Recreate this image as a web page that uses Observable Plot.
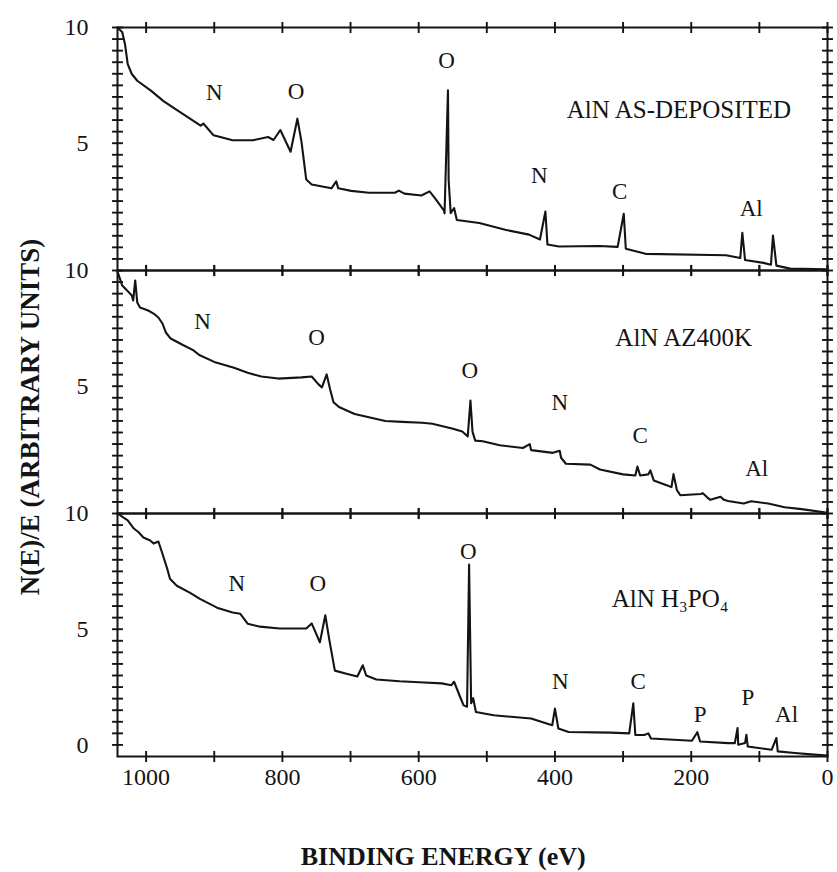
<!DOCTYPE html>
<html>
<head>
<meta charset="utf-8">
<script src="https://cdn.jsdelivr.net/npm/d3@7"></script>
<script src="https://cdn.jsdelivr.net/npm/@observablehq/plot@0.6"></script>
<style>
  html, body { margin: 0; padding: 0; background: #fff; }
  #chart { width: 837px; height: 872px; }
</style>
</head>
<body>
<div id="chart"></div>
<script>
// ---- panels ----
const panels = ["AlN AS-DEPOSITED", "AlN AZ400K", "AlN H\u2083PO\u2084"];

// ---- spectrum 1: AlN as-deposited ----
const energyAsDep = [1042,1035,1031,1027,1021,1013,993,974,944,920,916,901,873,843,821,813,803,788,778,772,765,757,728,721,718,699,673,635,629,621,596,584,577,563,562,557,556,553,548,544,511,473,438,422,414,411,394,335,308,299,296,267,149,128,125,121,94,83,80,75,55,0];
const intensityAsDep = [10,9.79,9.28,8.42,7.99,7.70,7.27,6.81,6.22,5.76,5.85,5.34,5.13,5.13,5.27,5.14,5.57,4.63,6.06,5.07,3.43,3.22,3.05,3.35,3.05,2.94,2.86,2.86,2.95,2.82,2.74,2.92,2.66,2.10,1.97,7.29,3.40,1.98,2.20,1.68,1.55,1.26,1.05,0.84,2.05,0.62,0.54,0.56,0.52,1.95,0.44,0.22,0.16,0.04,1.13,-0.05,-0.17,-0.25,1.01,-0.29,-0.42,-0.45];

// ---- spectrum 2: AlN AZ400K ----
const energyAZ = [1042,1035,1028,1021,1019,1016,1013,1009,997,989,982,976,971,964,946,931,922,900,871,851,831,806,772,757,747,742,735,730,725,717,694,649,624,595,580,551,536,528,524,521,517,506,481,447,437,435,403,393,391,384,348,334,300,282,279,275,263,260,255,236,229,226,221,216,186,183,177,172,157,152,146,123,112,87,63,38,0];
const intensityAZ = [9.95,9.35,9.14,8.92,8.70,9.57,8.62,8.40,8.27,8.14,7.97,7.71,7.32,7.06,6.78,6.56,6.35,6.05,5.80,5.58,5.42,5.33,5.38,5.42,5.08,4.95,5.51,4.87,4.31,4.10,3.80,3.50,3.46,3.42,3.38,3.17,3.04,2.83,4.38,3.04,2.65,2.62,2.45,2.33,2.50,2.24,2.12,2.21,1.91,1.65,1.61,1.40,1.19,1.14,1.53,1.14,1.19,1.36,0.93,0.72,0.64,1.20,0.51,0.29,0.34,0.38,0.21,0.09,0.22,0.09,0.04,-0.07,0.03,-0.07,-0.23,-0.31,-0.47];

// ---- spectrum 3: AlN H3PO4 ----
const energyH3PO4 = [1042,1027,1018,1011,1004,994,989,982,976,969,965,955,936,921,896,873,862,851,833,804,775,765,757,745,737,731,723,706,690,682,677,662,628,599,566,552,548,539,534,529,526,523,520,516,490,435,419,404,400,395,380,318,291,285,282,269,263,259,199,191,187,146,136,132,131,121,119,117,82,75,73,48,24,0];
const intensityH3PO4 = [10,9.70,9.35,9.19,8.96,8.83,8.70,8.79,8.26,7.61,7.18,6.88,6.58,6.31,5.93,5.72,5.67,5.24,5.11,5.03,5.03,5.03,5.25,4.43,5.60,4.52,3.21,3.08,2.96,3.44,3.00,2.83,2.75,2.71,2.66,2.58,2.73,2.06,1.71,1.65,7.79,1.80,2.02,1.42,1.28,1.14,0.99,0.85,1.57,0.71,0.56,0.53,0.50,1.80,0.43,0.43,0.50,0.28,0.18,0.55,0.15,0.08,0.08,0.73,0.01,0.08,0.44,-0.07,-0.21,0.30,-0.28,-0.35,-0.41,-0.46];

// ---- peak annotations (panel index, text, energy, intensity) ----
const peakPanel = [0,0,0,0,0,0, 1,1,1,1,1,1, 2,2,2,2,2,2,2,2];
const peakText  = ["N","O","O","N","C","Al", "N","O","O","N","C","Al", "N","O","O","N","C","P","P","Al"];
const peakE     = [900,780,559,423,305,112, 917,750,525,393,275,104, 867,748,527,392,278,187,117,60];
const peakI     = [7.17,7.22,8.58,3.61,2.91,2.17, 7.78,7.11,5.68,4.28,2.88,1.44, 6.98,6.99,8.35,2.72,2.73,1.30,2.05,1.31];

// ---- panel titles ----
const titleE = [218, 211, 231];
const titleI = [6.45, 7.08, 6.29];

// ---- axes ----
const xTickLabels = [1000, 800, 600, 400, 200, 0];
const xMinorTicks = [1000, 900, 800, 700, 600, 500, 400, 300, 200, 100, 0];
const yTickPanel = [0, 0, 1, 1, 2, 2, 2];
const yTickValue = [10, 5, 10, 5, 10, 5, 0];
const yMinorTicks = [0,0.5,1,1.5,2,2.5,3,3.5,4,4.5,5,5.5,6,6.5,7,7.5,8,8.5,9,9.5,10];
const xTitle = "BINDING ENERGY (eV)";
const yTitle = "N(E)/E (ARBITRARY UNITS)";
const eMax = 1042;
const yMin = -0.5, yMax = 10;

// ---- build tables ----
const rows = [
  ...energyAsDep.map((e, i) => ({panel: panels[0], E: e, I: intensityAsDep[i]})),
  ...energyAZ.map((e, i) => ({panel: panels[1], E: e, I: intensityAZ[i]})),
  ...energyH3PO4.map((e, i) => ({panel: panels[2], E: e, I: intensityH3PO4[i]}))
];
const yTickRows = panels.flatMap(p => yMinorTicks.flatMap(v => [{panel: p, v, side: eMax}, {panel: p, v, side: 0}]));
const xTickRows = panels.flatMap(p => xMinorTicks.flatMap(e => [{panel: p, e, edge: yMin}, {panel: p, e, edge: yMax}]));

const ink = "#141414";
const tickHalfE = 8;     // eV  (~5.5 px)
const tickHalfY = 0.24;  // units (~5.5 px)

const chart = Plot.plot({
  width: 837,
  height: 872,
  marginTop: 26,
  marginBottom: 116,
  marginLeft: 117,
  marginRight: 10,
  style: {fontFamily: "'Liberation Serif', 'Times New Roman', serif", background: "#fff", color: ink},
  x: {domain: [eMax, 0], axis: null},
  y: {domain: [yMin, yMax], axis: null},
  fy: {domain: panels, padding: 0, axis: null},
  marks: [
    Plot.frame({stroke: ink, strokeWidth: 2}),
    // y ticks (left & right), crossing the frame
    Plot.link(yTickRows, {fy: "panel", y1: "v", y2: "v", x1: d => d.side + tickHalfE, x2: d => d.side - tickHalfE, stroke: ink, strokeWidth: 1.9}),
    // x ticks on top and bottom of every panel, crossing the frame
    Plot.link(xTickRows, {fy: "panel", x1: "e", x2: "e", y1: d => d.edge - tickHalfY, y2: d => d.edge + tickHalfY, stroke: ink, strokeWidth: 1.9}),
    // spectra
    Plot.line(rows, {x: "E", y: "I", fy: "panel", stroke: ink, strokeWidth: 2.1, strokeLinejoin: "round"}),
    // peak labels
    Plot.text(d3.range(peakText.length), {
      fy: i => panels[peakPanel[i]], x: i => peakE[i], y: i => peakI[i], text: i => peakText[i],
      fontSize: 23, fill: ink
    }),
    // panel titles
    Plot.text(d3.range(panels.length), {
      fy: i => panels[i], x: i => titleE[i], y: i => titleI[i], text: i => panels[i],
      fontSize: 25, fill: ink
    }),
    // y tick labels
    Plot.text(d3.range(yTickValue.length), {
      fy: i => panels[yTickPanel[i]], frameAnchor: "left", y: i => yTickValue[i], text: i => String(yTickValue[i]),
      dx: -29, textAnchor: "end", fontSize: 24, fill: ink
    }),
    // x tick labels (bottom panel only)
    Plot.text(xTickLabels, {
      fy: () => panels[2], x: d => d, y: () => yMin, text: d => String(d),
      dy: 21, fontSize: 24, fill: ink
    }),
    // x title
    Plot.text([xTitle], {
      fy: () => panels[2], x: () => 564, y: () => yMin, text: d => d,
      dy: 100, fontSize: 26, fontWeight: "bold", fill: ink
    }),
    // y title
    Plot.text([yTitle], {
      fy: () => panels[1], frameAnchor: "left", y: () => 3.67, text: d => d,
      dx: -87, rotate: -90, textAnchor: "middle", fontSize: 27, fontWeight: "bold", fill: ink
    })
  ]
});
document.getElementById("chart").appendChild(chart);
</script>
</body>
</html>
